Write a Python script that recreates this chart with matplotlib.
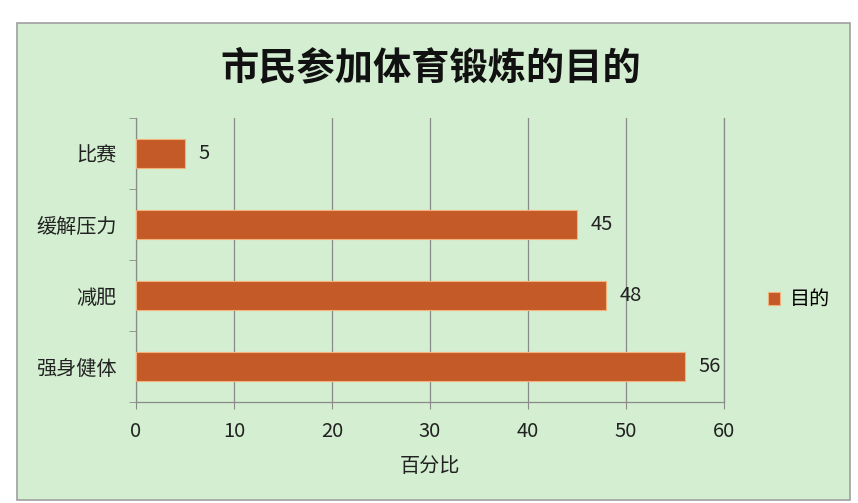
import matplotlib.pyplot as plt
from matplotlib.patches import Rectangle

plt.rcParams['font.family'] = ['Noto Sans CJK SC', 'DejaVu Sans']

categories = ['强身健体', '减肥', '缓解压力', '比赛']
values = [56, 48, 45, 5]
series_name = '目的'
xticks = [0, 10, 20, 30, 40, 50, 60]

bg = '#d3eed0'
bar_color = '#c45a28'
grid_color = '#8a8a8a'
txt = '#222222'

fig = plt.figure(figsize=(8.58, 5.03), dpi=100)
fig.patch.set_facecolor('white')
# green panel of the chart area
fig.patches.append(Rectangle((17 / 858, 3 / 503), 833 / 858, 477 / 503,
                             transform=fig.transFigure, facecolor=bg,
                             edgecolor='#a0a0a0', linewidth=1.2, zorder=-10))

ax = fig.add_axes([136 / 858, 1 - 402 / 503, 588 / 858, 284 / 503])
ax.set_facecolor('none')
ax.set_zorder(5)

pos = list(range(len(categories)))
bars = ax.barh(pos, values, height=0.42, color=bar_color,
               edgecolor='#f2b27a', linewidth=0.8, label=series_name, zorder=3)

for p, v in zip(pos, values):
    ax.text(v + 1.4, p, str(v), va='center', ha='left', fontsize=14.5,
            color=txt, zorder=4)

ax.set_xlim(0, 60)
ax.set_ylim(-0.5, len(categories) - 0.5)
ax.set_xticks(xticks)
ax.set_xticklabels([str(t) for t in xticks], fontsize=14.5, color=txt)
ax.set_yticks(pos)
ax.set_yticklabels(categories, fontsize=14.5, color=txt)
ax.set_yticks([-0.5, 0.5, 1.5, 2.5, 3.5], minor=True)
ax.tick_params(axis='y', which='major', length=0, pad=14)
ax.tick_params(axis='y', which='minor', length=5, color=grid_color)
ax.tick_params(axis='x', length=5, color=grid_color, pad=9)

ax.grid(axis='x', color=grid_color, linewidth=0.9, zorder=1)
# last gridline sits on the axes edge; draw it unclipped
ax.axvline(xticks[-1], color=grid_color, linewidth=0.9, clip_on=False, zorder=1)
for s in ['top', 'right']:
    ax.spines[s].set_visible(False)
for s in ['left', 'bottom']:
    ax.spines[s].set_color(grid_color)
    ax.spines[s].set_linewidth(0.9)

ax.set_xlabel('百分比', fontsize=14.5, color=txt, labelpad=10)

fig.text(431 / 858, 1 - 68 / 503, '市民参加体育锻炼的目的', ha='center', va='center',
         fontsize=27.5, fontweight='bold', color='#111111', zorder=6)

ax.legend(loc='center left', bbox_to_anchor=(1.044, 0.36), frameon=False,
          fontsize=14.5, handlelength=0.6, handleheight=0.6, handletextpad=0.5)

fig.savefig('out.png', dpi=100)
